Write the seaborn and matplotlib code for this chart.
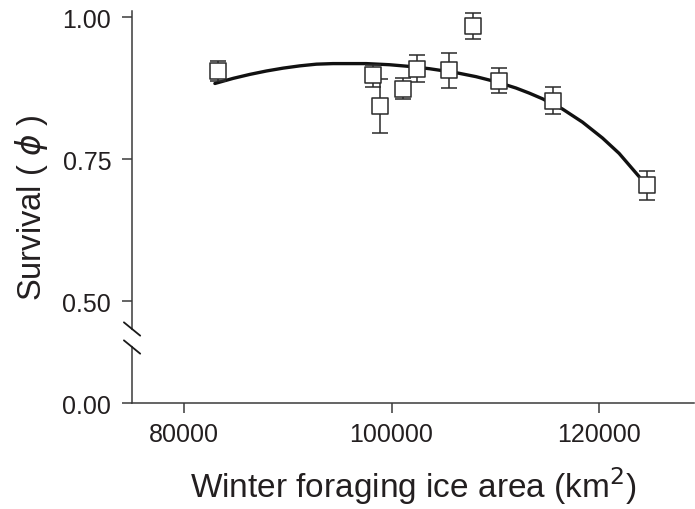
import numpy as np
import matplotlib
matplotlib.use("Agg")
import matplotlib.pyplot as plt
import seaborn as sns

# ---- data ----
area = [83270, 98200, 98900, 101090, 102430, 105510, 107820, 110390, 115510, 124640]
survival = [0.905, 0.898, 0.844, 0.874, 0.908, 0.907, 0.985, 0.888, 0.853, 0.704]
err_low = [0.887, 0.877, 0.795, 0.856, 0.885, 0.875, 0.962, 0.866, 0.830, 0.678]
err_high = [0.923, 0.915, 0.891, 0.893, 0.934, 0.937, 1.007, 0.910, 0.877, 0.729]

curve_x = [82980, 84740, 86350, 87950, 89550, 91150, 92760, 94360, 95960, 97570,
           99810, 101730, 103650, 106220, 108140, 110070, 111990, 113270, 114550,
           116470, 118390, 120320, 121920, 123850]
curve_y = [0.883, 0.892, 0.899, 0.905, 0.910, 0.914, 0.917, 0.918, 0.918, 0.918,
           0.916, 0.913, 0.909, 0.902, 0.895, 0.886, 0.875, 0.866, 0.856,
           0.838, 0.815, 0.787, 0.760, 0.719]

xticks = [80000, 100000, 120000]
yticks = [0.0, 0.5, 0.75, 1.0]
ytick_labels = ["0.00", "0.50", "0.75", "1.00"]

sns.set_style("ticks")
plt.rcParams['font.family'] = ['Liberation Sans', 'DejaVu Sans']
plt.rcParams['mathtext.fontset'] = 'dejavusans'

fig = plt.figure(figsize=(6.95, 5.10), dpi=100)
ax = fig.add_axes([0.190, 0.2078, 0.808, 0.768])

# broken-axis style compression below 0.5
k = 102.0 / 284.0
def fwd(y):
    y = np.asarray(y, dtype=float)
    return np.where(y >= 0.5, y, 0.5 - (0.5 - y) * k)
def inv(f):
    f = np.asarray(f, dtype=float)
    return np.where(f >= 0.5, f, 0.5 - (0.5 - f) / k)
ax.set_yscale('function', functions=(fwd, inv))

sns.lineplot(x=curve_x, y=curve_y, ax=ax, color='#111111', linewidth=2.4,
             sort=False, zorder=2)
yerr = [np.array(survival) - np.array(err_low), np.array(err_high) - np.array(survival)]
ax.errorbar(area, survival, yerr=yerr, fmt='none', ecolor='#2a2a2a',
            elinewidth=1.1, capsize=5.6, capthick=1.1, zorder=3)
sns.scatterplot(x=area, y=survival, ax=ax, marker='s', s=118, color='white',
                edgecolor='#2a2a2a', linewidth=1.1, zorder=4)

ax.set_xlim(75000, 129100)
ax.set_ylim(0.0, 1.01)
ax.set_xticks(xticks)
ax.set_xticklabels([str(v) for v in xticks])
ax.set_yticks(yticks)
ax.set_yticklabels(ytick_labels)
ax.yaxis.set_minor_locator(matplotlib.ticker.NullLocator())

sns.despine(ax=ax)
for s in ['left', 'bottom']:
    ax.spines[s].set_color('#3a3a3a')
    ax.spines[s].set_linewidth(1.1)
ax.tick_params(axis='both', direction='out', length=7, width=1.1,
               color='#3a3a3a', labelsize=18, labelcolor='#231f20')
ax.tick_params(axis='y', pad=8)
ax.tick_params(axis='x', pad=7)

ax.set_xlabel("Winter foraging ice area (km$^2$)", fontsize=24,
              color='#231f20', labelpad=13)
ax.set_ylabel("Survival ( $\\phi$ )", fontsize=23.5, color='#231f20', labelpad=9)

# axis break marks
trans = ax.transAxes
dx, dy = 0.0145, 0.017
gap_lo, gap_hi = 0.150, 0.182
ax.plot([0, 0], [gap_lo, gap_hi], transform=trans, color='white',
        linewidth=3, clip_on=False, zorder=5)
for yc in (0.189, 0.143):
    ax.plot([-dx, dx], [yc + dy, yc - dy], transform=trans, color='#1a1a1a',
            linewidth=1.3, clip_on=False, zorder=6)

fig.savefig("out.png", dpi=100)
